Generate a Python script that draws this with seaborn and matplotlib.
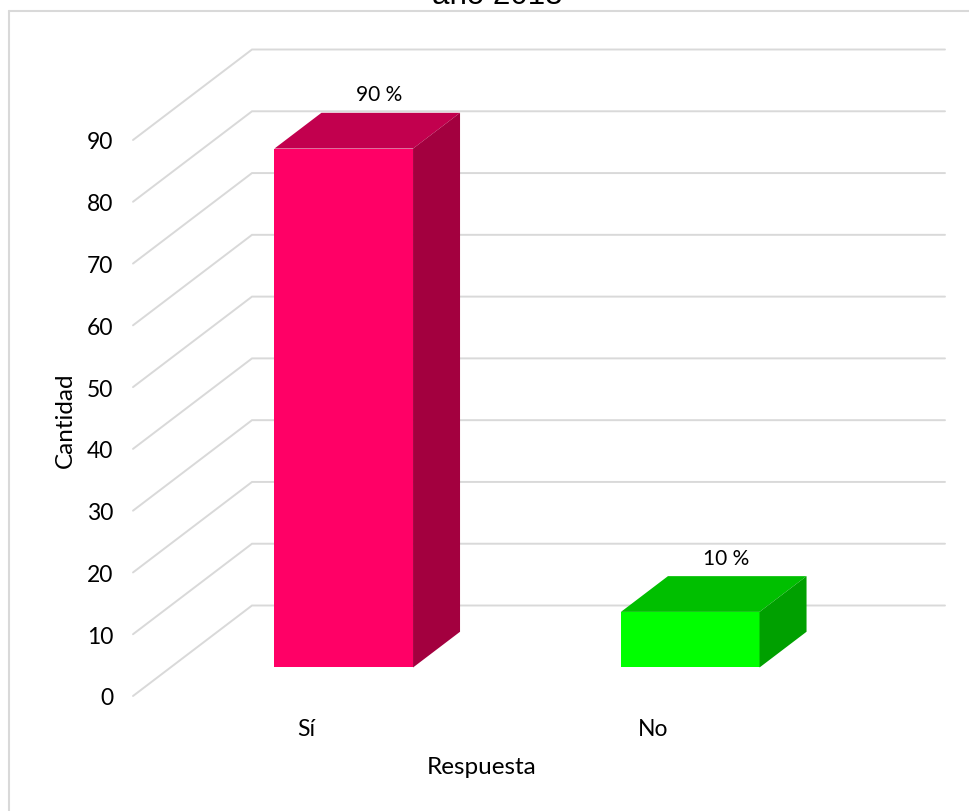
import matplotlib
matplotlib.use("Agg")
import matplotlib.pyplot as plt
import numpy as np
import pandas as pd
import seaborn as sns
from matplotlib.patches import Polygon
from matplotlib.transforms import Affine2D
from matplotlib.lines import Line2D

# Survey answers: count of respondents and share of the total
categorias = ["Sí", "No"]
cantidades = [84, 9]
porcentajes = ["90 %", "10 %"]
yticks = [0, 10, 20, 30, 40, 50, 60, 70, 80, 90]

# Face colours of each box: front, top, right side
color_frente = ["#FF0066", "#00FF00"]
color_tapa = ["#C2004E", "#00BF00"]
color_lado = ["#A3003F", "#00A000"]

sns.set_theme(style="white")
plt.rcParams["font.family"] = ["Lato", "DejaVu Sans"]

W, H = 969, 812
fig = plt.figure(figsize=(W / 100, H / 100), dpi=100)
fig.patch.set_facecolor("white")

# Front plane of the pseudo-3D box
ax = fig.add_axes([133 / W, (H - 697) / H, 693 / W, 556 / H])
ax.set_xlim(-0.5, 1.5)
ax.set_ylim(0, 90)

# Depth vector of the chart box, in data units
DX = 119 / 693 * 2.0
DY = 90.5 / 556 * 90.0
# Depth range occupied by the bars (fraction of the box depth)
F0, F1 = 0.315, 0.71

# Side wall and back wall gridlines
for t in yticks:
    ax.plot([-0.5, -0.5 + DX, 1.5 + DX], [t, t + DY, t + DY],
            color="#D9D9D9", lw=1.4, clip_on=False, zorder=0.5,
            solid_joinstyle="miter")

df = pd.DataFrame({"Respuesta": categorias, "Cantidad": cantidades})
sns.barplot(data=df, x="Respuesta", y="Cantidad", hue="Respuesta",
            palette=dict(zip(categorias, color_frente)), saturation=1,
            width=0.4, linewidth=0, legend=False, ax=ax, zorder=3)

shift = Affine2D().translate(F0 * DX, F0 * DY) + ax.transData
ddx, ddy = (F1 - F0) * DX, (F1 - F0) * DY
bars = sorted(ax.patches, key=lambda p: p.get_x())
for bar, tapa, lado, txt in zip(bars, color_tapa, color_lado, porcentajes):
    bar.set_transform(shift)
    bar.set_clip_on(False)
    x0 = bar.get_x()
    x1 = x0 + bar.get_width()
    h = bar.get_height()
    top = Polygon([(x0, h), (x1, h), (x1 + ddx, h + ddy), (x0 + ddx, h + ddy)],
                  closed=True, facecolor=tapa, edgecolor="none",
                  transform=shift, clip_on=False, zorder=3)
    side = Polygon([(x1, 0), (x1, h), (x1 + ddx, h + ddy), (x1 + ddx, ddy)],
                   closed=True, facecolor=lado, edgecolor="none",
                   transform=shift, clip_on=False, zorder=3)
    ax.add_patch(top)
    ax.add_patch(side)
    cx = (x0 + x1) / 2
    ax.annotate(txt, xy=(cx + 0.3 * DX, h + 0.3 * DY), xycoords=shift,
                xytext=(0, 27), textcoords="offset pixels",
                ha="center", va="center", fontsize=15, color="#000000",
                annotation_clip=False)

ax.set_yticks(yticks)
ax.set_yticklabels([str(t) for t in yticks])
ax.tick_params(axis="y", length=0, pad=14, labelsize=16.5, labelcolor="#000000")
ax.tick_params(axis="x", length=0, pad=16, labelsize=16.5, labelcolor="#000000")
for s in ax.spines.values():
    s.set_visible(False)
ax.set_facecolor("none")

ax.set_xlabel("Respuesta", fontsize=17.5, color="#000000")
ax.xaxis.set_label_coords((482 - 133) / 693, -(768 - 697) / 556)
ax.xaxis.label.set_va("center")
ax.set_ylabel("Cantidad", fontsize=17.5, color="#000000")
ax.yaxis.set_label_coords((65 - 133) / 693, (697 - 420) / 556)
ax.yaxis.label.set_va("center")

# Chart title (second line sits at the top edge)
fig.text(497 / W, 1 - 4 / H, "año 2018", ha="center", va="baseline",
         fontsize=22.5, family=["Liberation Sans", "DejaVu Sans"], color="#000000")

# Chart area border
fig.add_artist(Line2D([9 / W, 9 / W], [0, 1 - 12 / H], transform=fig.transFigure,
                      color="#D9D9D9", lw=1.5))
fig.add_artist(Line2D([9 / W, 1], [1 - 12 / H, 1 - 12 / H], transform=fig.transFigure,
                      color="#D9D9D9", lw=1.5))

fig.savefig("out.png", dpi=100, facecolor="white")
